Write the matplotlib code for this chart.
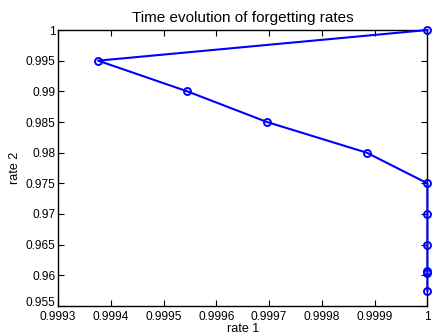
import matplotlib
matplotlib.use("Agg")
import matplotlib.pyplot as plt
import matplotlib.transforms as mtransforms
from matplotlib.ticker import FuncFormatter

plt.rcParams['font.family'] = ['Liberation Sans', 'DejaVu Sans']

# forgetting rates over time
rate1 = [1.0, 0.999376, 0.999545, 0.999696, 0.999885, 1.0, 1.0, 1.0, 1.0, 1.0, 1.0]
rate2 = [1.0, 0.995, 0.990, 0.985, 0.980, 0.975, 0.970, 0.965, 0.9607, 0.9603, 0.9575]

x_ticks = [0.9993, 0.9994, 0.9995, 0.9996, 0.9997, 0.9998, 0.9999, 1.0]
y_ticks = [0.955, 0.96, 0.965, 0.97, 0.975, 0.98, 0.985, 0.99, 0.995, 1.0]

fig = plt.figure(figsize=(4.32, 3.36), dpi=100)
ax = fig.add_axes([0.1343, 0.0893, 0.855, 0.8214])

ax.plot(rate1, rate2, color="#0000ff", lw=1.5, marker="o", ms=5,
        mfc="none", mec="#0000ff", mew=1.4, clip_on=False, zorder=3)

ax.set_xlim(0.9993, 1.0)
ax.set_ylim(0.955, 1.0)
ax.set_xticks(x_ticks)
ax.set_yticks(y_ticks)
fmt = FuncFormatter(lambda v, p: "%g" % round(v, 6))
ax.xaxis.set_major_formatter(fmt)
ax.yaxis.set_major_formatter(fmt)
ax.tick_params(direction="in", top=True, right=True, labelsize=8.6, length=4, width=0.8)
ax.tick_params(axis="x", pad=3.5)
ax.tick_params(axis="y", pad=2)
for s in ax.spines.values():
    s.set_linewidth(1.0)

# lift the lowest y label a little so it clears the first x label
low = ax.yaxis.get_major_ticks()[0].label1
low.set_transform(low.get_transform() + mtransforms.ScaledTranslation(0, 3 / 72, fig.dpi_scale_trans))

ax.set_title("Time evolution of forgetting rates", fontsize=11, pad=6)
ax.set_xlabel("rate 1", fontsize=9, labelpad=0)
ax.set_ylabel("rate 2", fontsize=9, labelpad=3)

fig.savefig("out.png", dpi=100)
